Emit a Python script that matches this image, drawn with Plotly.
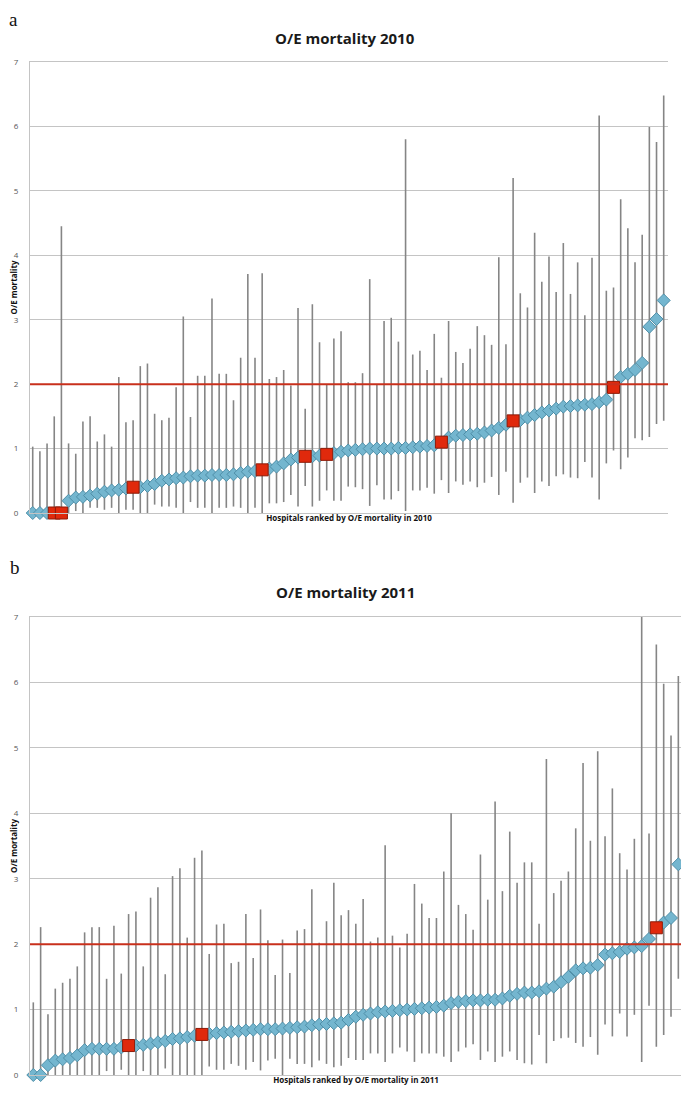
import plotly.graph_objects as go

# ---------------- DATA ----------------
hosp_2010 = list(range(1, 90))
oe_2010 = [0, 0, 0, 0, 0, 0.19, 0.24, 0.25, 0.27, 0.30,
           0.33, 0.35, 0.36, 0.38, 0.40, 0.40, 0.42, 0.45, 0.50, 0.52,
           0.54, 0.55, 0.57, 0.58, 0.58, 0.59, 0.59, 0.59, 0.60, 0.62,
           0.64, 0.65, 0.67, 0.69, 0.72, 0.77, 0.83, 0.86, 0.88, 0.88,
           0.89, 0.91, 0.93, 0.95, 0.97, 0.98, 0.99, 1.00, 1.00, 1.00,
           1.00, 1.01, 1.01, 1.02, 1.03, 1.04, 1.05, 1.10, 1.17, 1.20,
           1.21, 1.22, 1.23, 1.25, 1.28, 1.32, 1.37, 1.43, 1.44, 1.48,
           1.52, 1.56, 1.59, 1.62, 1.65, 1.66, 1.67, 1.68, 1.69, 1.72,
           1.76, 1.95, 2.11, 2.16, 2.22, 2.33, 2.89, 3.01, 3.30]
upper_2010 = [1.03, 0.96, 1.08, 1.50, 4.45, 1.08, 0.92, 1.42, 1.50, 1.11,
              1.22, 1.03, 2.11, 1.41, 1.44, 2.28, 2.32, 1.54, 1.44, 1.48,
              1.95, 3.05, 1.49, 2.13, 2.13, 3.33, 2.16, 2.16, 1.75, 2.41,
              3.71, 2.41, 3.72, 2.08, 2.11, 2.22, 1.98, 3.18, 1.62, 3.24,
              2.65, 1.99, 2.71, 2.82, 2.03, 2.03, 2.17, 3.63, 2.00, 2.98,
              3.03, 2.66, 5.80, 2.46, 2.52, 2.22, 2.78, 2.10, 2.98, 2.50,
              2.33, 2.55, 2.90, 2.76, 2.61, 3.97, 2.62, 5.20, 3.41, 3.19,
              4.35, 3.59, 3.98, 3.43, 4.19, 3.40, 3.89, 3.07, 3.96, 6.17,
              3.45, 3.50, 4.87, 4.42, 3.89, 4.32, 5.99, 5.76, 6.48]
lower_2010 = [0, 0, 0, 0, 0, 0.0, 0.03, 0.0, 0.08, 0.08,
              0.05, 0.08, 0.0, 0.05, 0.05, 0.0, 0.0, 0.13, 0.10, 0.10,
              0.08, 0.0, 0.17, 0.08, 0.08, 0.0, 0.08, 0.08, 0.10, 0.08,
              0.0, 0.08, 0.0, 0.15, 0.15, 0.17, 0.28, 0.10, 0.42, 0.10,
              0.19, 0.35, 0.19, 0.19, 0.41, 0.40, 0.37, 0.11, 0.43, 0.21,
              0.21, 0.34, 0.03, 0.35, 0.35, 0.39, 0.30, 0.51, 0.31, 0.49,
              0.44, 0.49, 0.40, 0.47, 0.56, 0.28, 0.64, 0.16, 0.47, 0.55,
              0.31, 0.49, 0.42, 0.57, 0.60, 0.55, 0.54, 0.79, 0.55, 0.21,
              0.77, 0.97, 0.68, 0.86, 1.16, 1.13, 1.18, 1.38, 1.43]
flagged_2010 = [4, 5, 15, 33, 39, 42, 58, 68, 82]

hosp_2011 = list(range(1, 90))
oe_2011 = [0, 0, 0.15, 0.22, 0.24, 0.26, 0.30, 0.38, 0.40, 0.40,
           0.40, 0.40, 0.42, 0.45, 0.45, 0.46, 0.48, 0.50, 0.52, 0.55,
           0.56, 0.58, 0.60, 0.62, 0.63, 0.64, 0.65, 0.66, 0.67, 0.68,
           0.69, 0.70, 0.70, 0.70, 0.71, 0.72, 0.73, 0.74, 0.76, 0.77,
           0.78, 0.79, 0.80, 0.84, 0.89, 0.92, 0.94, 0.96, 0.97, 0.98,
           0.99, 1.00, 1.01, 1.02, 1.03, 1.04, 1.06, 1.10, 1.12, 1.13,
           1.14, 1.14, 1.15, 1.15, 1.17, 1.21, 1.24, 1.26, 1.26, 1.28,
           1.32, 1.35, 1.42, 1.50, 1.60, 1.63, 1.64, 1.68, 1.84, 1.86,
           1.88, 1.93, 1.95, 1.97, 2.08, 2.25, 2.33, 2.40, 3.22]
upper_2011 = [1.11, 2.26, 0.93, 1.32, 1.41, 1.47, 1.66, 2.18, 2.26, 2.26,
              1.47, 2.28, 1.55, 2.46, 2.50, 1.66, 2.71, 2.87, 1.54, 3.04,
              3.16, 2.10, 3.32, 3.43, 1.85, 2.30, 2.31, 1.71, 1.73, 2.46,
              1.79, 2.53, 2.06, 1.53, 2.07, 1.56, 2.21, 2.23, 2.84, 2.02,
              2.35, 2.94, 2.44, 2.52, 2.31, 2.69, 2.04, 2.10, 3.51, 2.13,
              1.95, 2.16, 2.92, 2.62, 2.40, 2.40, 3.11, 4.00, 2.60, 2.46,
              2.22, 3.37, 2.68, 4.18, 2.81, 3.72, 2.94, 3.25, 3.25, 2.31,
              4.83, 2.78, 2.97, 3.11, 3.77, 4.77, 3.58, 4.95, 3.65, 4.38,
              3.39, 3.14, 3.61, 7.00, 3.69, 6.58, 5.98, 5.19, 6.10]
lower_2011 = [0, 0, 0, 0, 0, 0, 0, 0, 0, 0,
              0.06, 0.0, 0.08, 0.0, 0.0, 0.06, 0.0, 0.0, 0.10, 0.0,
              0.0, 0.0, 0.0, 0.0, 0.13, 0.08, 0.08, 0.17, 0.14, 0.08,
              0.20, 0.07, 0.22, 0.25, 0.0, 0.25, 0.17, 0.17, 0.12, 0.22,
              0.17, 0.12, 0.14, 0.26, 0.23, 0.23, 0.33, 0.33, 0.20, 0.33,
              0.42, 0.36, 0.20, 0.33, 0.33, 0.33, 0.28, 0.20, 0.36, 0.42,
              0.47, 0.23, 0.36, 0.20, 0.28, 0.36, 0.23, 0.18, 0.16, 0.61,
              0.18, 0.52, 0.56, 0.57, 0.49, 0.43, 0.58, 0.31, 0.77, 0.59,
              0.94, 0.59, 0.92, 0.20, 1.06, 0.43, 0.61, 0.89, 1.47]
flagged_2011 = [14, 24, 86]

threshold = 2
y_ticks = [0, 1, 2, 3, 4, 5, 6, 7]

# ---------------- FIGURE ----------------
# the page body has an 8px default margin, so the figure is 8px smaller
OFF = 8
W, H = 689 - OFF, 1093 - OFF
fig = go.Figure()

BLUE = "#74b6cf"
BLUE_EDGE = "#4f8fa8"
RED = "#e0290c"
RED_EDGE = "#8e1b08"
BAR = "#858585"
GRID = "#c4c4c4"


def xp(p):
    return (p - OFF) / W


def yp(p):
    return (H - (p - OFF)) / H


def add_panel(hosp, oe, up, lo, flagged, xa, ya):
    plus = [u - v for u, v in zip(up, oe)]
    minus = [v - l for v, l in zip(oe, lo)]
    fig.add_trace(go.Scatter(
        x=hosp, y=oe, mode="markers", xaxis=xa, yaxis=ya,
        marker=dict(size=1, color="rgba(0,0,0,0)"),
        error_y=dict(type="data", symmetric=False, array=plus, arrayminus=minus,
                     width=0, thickness=1.6, color=BAR),
        showlegend=False, hoverinfo="skip", cliponaxis=False))
    bx = [h for h in hosp if h not in flagged]
    by = [v for h, v in zip(hosp, oe) if h not in flagged]
    fig.add_trace(go.Scatter(
        x=bx, y=by, mode="markers", xaxis=xa, yaxis=ya,
        marker=dict(symbol="diamond", size=10, color=BLUE,
                    line=dict(color=BLUE_EDGE, width=1)),
        showlegend=False, cliponaxis=False))
    rx = [h for h in hosp if h in flagged]
    ry = [v for h, v in zip(hosp, oe) if h in flagged]
    fig.add_trace(go.Scatter(
        x=rx, y=ry, mode="markers", xaxis=xa, yaxis=ya,
        marker=dict(symbol="square", size=12, color=RED,
                    line=dict(color=RED_EDGE, width=1)),
        showlegend=False, cliponaxis=False))


add_panel(hosp_2010, oe_2010, upper_2010, lower_2010, flagged_2010, "x", "y")
add_panel(hosp_2011, oe_2011, upper_2011, lower_2011, flagged_2011, "x2", "y2")

# threshold line at O/E = 2
for xr, yr in (("x domain", "y"), ("x2 domain", "y2")):
    fig.add_shape(type="line", xref=xr, yref=yr, x0=0, x1=1,
                  y0=threshold, y1=threshold,
                  line=dict(color="#c8301c", width=2), layer="above")

xfont = dict(family="Open Sans, Liberation Sans, sans-serif", size=8, color="#111111")
yaxis_common = dict(range=[0, 7], tickvals=y_ticks, showgrid=True, gridcolor=GRID,
                    gridwidth=1, zeroline=False, showline=True, linecolor=GRID,
                    linewidth=1, ticks="", tickfont=dict(family="Open Sans, sans-serif",
                                                          size=8, color="#555555"),
                    ticklabelstandoff=9, automargin=False)
xaxis_common = dict(showgrid=False, zeroline=False, showline=True, mirror=True,
                    linecolor=GRID, linewidth=1, showticklabels=False,
                    ticks="", automargin=False)

fig.update_layout(
    width=W, height=H, margin=dict(l=0, r=0, t=0, b=0),
    paper_bgcolor="white", plot_bgcolor="white", showlegend=False,
    xaxis=dict(domain=[xp(30), xp(668)], range=[0.62, 89.6], anchor="y",
               title=dict(text="<b>Hospitals ranked by O/E mortality in 2010</b>",
                          font=xfont, standoff=2), **xaxis_common),
    yaxis=dict(domain=[yp(513), yp(62)], anchor="x",
               title=dict(text="<b>O/E mortality</b>", font=xfont, standoff=6),
               **yaxis_common),
    xaxis2=dict(domain=[xp(30), xp(682)], range=[0.55, 89.5], anchor="y2",
                title=dict(text="<b>Hospitals ranked by O/E mortality in 2011</b>",
                           font=xfont, standoff=2), **xaxis_common),
    yaxis2=dict(domain=[yp(1075), yp(617)], anchor="x2",
                title=dict(text="<b>O/E mortality</b>", font=xfont, standoff=6),
                **yaxis_common),
)

title_font = dict(family="Open Sans, Liberation Sans, sans-serif", size=15, color="#1a1a1a")
fig.add_annotation(text="<b>O/E mortality 2010</b>", x=xp(345), y=yp(38), xref="paper",
                   yref="paper", showarrow=False, font=title_font, xanchor="center",
                   yanchor="middle")
fig.add_annotation(text="<b>O/E mortality 2011</b>", x=xp(345), y=yp(592), xref="paper",
                   yref="paper", showarrow=False, font=title_font, xanchor="center",
                   yanchor="middle")
label_font = dict(family="Liberation Serif, DejaVu Serif, serif", size=19, color="#111111")
fig.add_annotation(text="a", x=xp(8), y=1, xref="paper", yref="paper",
                   showarrow=False, font=label_font, xanchor="left", yanchor="top",
                   borderpad=0)
fig.add_annotation(text="b", x=xp(8), y=yp(567), xref="paper", yref="paper",
                   showarrow=False, font=label_font, xanchor="left", yanchor="middle")

fig.write_html("out.html")
